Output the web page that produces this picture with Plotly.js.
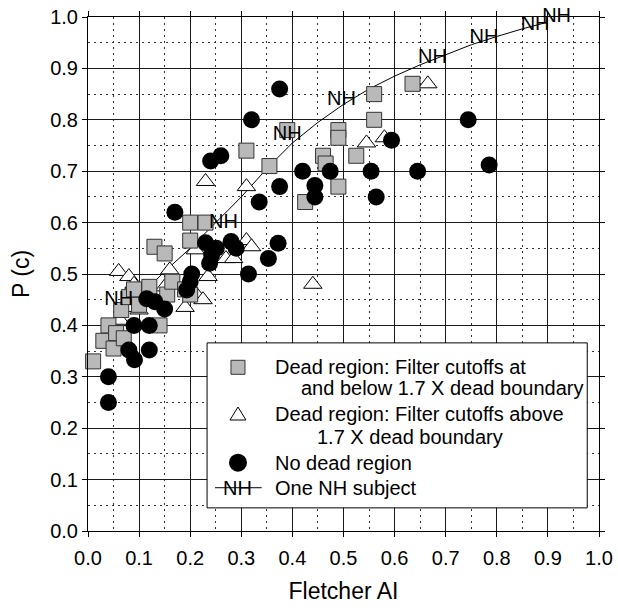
<!DOCTYPE html>
<html>
<head>
<meta charset="utf-8">
<script src="https://cdn.plot.ly/plotly-3.0.1.min.js"></script>
<style>html,body{margin:0;padding:0;background:#fff;}#chart{width:618px;height:608px;}</style>
</head>
<body>
<div id="chart"></div>
<script>
// Dead region: filter cutoffs at and below 1.7 X dead boundary (grey squares)
var deadLowX = [0.31,0.355,0.39,0.425,0.46,0.465,0.49,0.49,0.49,0.525,0.56,0.56,0.635,
                0.20,0.23,0.20,0.13,0.15,
                0.01,0.03,0.04,0.05,0.055,0.065,0.07,0.08,0.09,0.10,0.12,0.14,0.155,0.165,0.19,0.20];
var deadLowY = [0.74,0.71,0.78,0.64,0.73,0.715,0.78,0.765,0.67,0.73,0.85,0.80,0.87,
                0.60,0.60,0.565,0.553,0.54,
                0.33,0.37,0.40,0.355,0.385,0.43,0.375,0.455,0.47,0.44,0.475,0.40,0.46,0.485,0.47,0.46];

// Dead region: filter cutoffs above 1.7 X dead boundary (open triangles)
var deadHighX = [0.23,0.31,0.31,0.32,0.21,0.27,0.285,0.16,0.06,0.08,0.09,0.44,0.235,0.665,0.545,0.58,
                 0.15,0.19,0.215,0.225,0.063,0.10,0.085,0.11];
var deadHighY = [0.68,0.67,0.565,0.553,0.547,0.53,0.53,0.508,0.505,0.495,0.48,0.48,0.495,0.87,0.755,0.765,
                 0.475,0.435,0.456,0.45,0.41,0.43,0.435,0.46];

// No dead region (filled circles)
var noDeadX = [0.17,0.24,0.26,0.32,0.375,0.335,0.375,0.42,0.444,0.444,0.474,0.554,0.564,0.594,0.645,0.744,0.785,
               0.23,0.251,0.28,0.29,0.242,0.238,0.372,0.353,0.314,0.203,0.20,0.193,
               0.115,0.131,0.15,0.09,0.12,0.08,0.091,0.12,0.04,0.04];
var noDeadY = [0.62,0.72,0.73,0.80,0.86,0.64,0.67,0.70,0.672,0.65,0.70,0.70,0.65,0.76,0.70,0.80,0.712,
               0.561,0.55,0.563,0.55,0.537,0.521,0.56,0.53,0.50,0.50,0.485,0.469,
               0.452,0.446,0.432,0.40,0.40,0.352,0.333,0.352,0.30,0.25];

// One NH subject: labels and the line through them
var nhX = [0.06,0.265,0.39,0.496,0.674,0.775,0.875,0.917];
var nhY = [0.45,0.60,0.77,0.838,0.92,0.96,0.984,1.0];
var nhLineX = [0.05,0.10,0.15,0.20,0.25,0.30,0.35,0.40,0.45,0.50,0.55,0.60,0.65,0.70,0.75,0.80,0.85,0.90];
var nhLineY = [0.40,0.455,0.505,0.55,0.60,0.65,0.705,0.755,0.795,0.83,0.86,0.885,0.907,0.927,0.946,0.962,0.977,0.99];

var tickVals = [0,0.1,0.2,0.3,0.4,0.5,0.6,0.7,0.8,0.9,1.0];
var tickText = ['0.0','0.1','0.2','0.3','0.4','0.5','0.6','0.7','0.8','0.9','1.0'];

var legendLabels = [
  'Dead region: Filter cutoffs at',
  'and below 1.7 X dead boundary',
  'Dead region: Filter cutoffs above',
  '1.7 X dead boundary',
  'No dead region',
  'One NH subject'
];

var FONT = 'Liberation Sans, Arial, sans-serif';

var traces = [
  {x: nhLineX, y: nhLineY, mode: 'lines', line: {color: '#000', width: 1}, hoverinfo: 'skip', cliponaxis: false},
  {x: deadHighX, y: deadHighY, mode: 'markers', cliponaxis: false,
   marker: {symbol: 'triangle-up', size: 16, color: '#ffffff', line: {color: '#000', width: 1}}},
  {x: deadLowX, y: deadLowY, mode: 'markers', cliponaxis: false,
   marker: {symbol: 'square', size: 15, color: '#b9b9b9', line: {color: '#333', width: 1}}},
  {x: noDeadX, y: noDeadY, mode: 'markers', cliponaxis: false,
   marker: {symbol: 'circle', size: 17, color: '#000', line: {color: '#000', width: 0}}},
  {x: nhX, y: nhY, mode: 'text', text: nhX.map(function(){return 'NH';}), textposition: 'middle center',
   textfont: {family: FONT, size: 20, color: '#000'}, cliponaxis: false}
];

function axisCommon() {
  return {
    range: [0, 1], tickmode: 'array', tickvals: tickVals, ticktext: tickText,
    showgrid: true, gridcolor: '#1a1a1a', gridwidth: 1,
    minor: {dtick: 0.05, showgrid: true, gridcolor: '#333', gridwidth: 1, griddash: '2px,4px', ticks: ''},
    zeroline: false, showline: true, linecolor: '#000', linewidth: 1, mirror: 'ticks',
    ticks: 'outside', ticklen: 5, tickcolor: '#000', tickwidth: 1,
    tickfont: {family: FONT, size: 20, color: '#000'}, fixedrange: true
  };
}

var xa = axisCommon();
xa.title = {text: 'Fletcher AI', font: {family: FONT, size: 23, color: '#000'}, standoff: 14};
xa.ticklabelstandoff = 4;
var ya = axisCommon();
ya.title = {text: 'P (c)', font: {family: FONT, size: 23, color: '#000'}, standoff: 14};

// legend box geometry (plot fraction)
var lgX0 = 0.233, lgX1 = 0.977, lgY0 = 0.045, lgY1 = 0.366;
var symX = 0.2935, txtX = 0.3614;
var rowY = [0.3185, 0.2776, 0.2276, 0.1835, 0.1329, 0.0842];
var rowX = [txtX, 0.4135, txtX, 0.4442, txtX, txtX];

var shapes = [
  {type: 'rect', xref: 'paper', yref: 'paper', x0: lgX0, x1: lgX1, y0: lgY0, y1: lgY1,
   fillcolor: '#fff', line: {color: '#000', width: 1}, layer: 'above'},
  {type: 'rect', xref: 'paper', yref: 'paper', xsizemode: 'pixel', ysizemode: 'pixel',
   xanchor: symX, yanchor: rowY[0], x0: -7, x1: 7, y0: -7, y1: 7,
   fillcolor: '#b9b9b9', line: {color: '#333', width: 1}, layer: 'above'},
  {type: 'path', xref: 'paper', yref: 'paper', xsizemode: 'pixel', ysizemode: 'pixel',
   xanchor: symX, yanchor: rowY[2], path: 'M-8,-6 L8,-6 L0,7 Z',
   fillcolor: '#fff', line: {color: '#000', width: 1}, layer: 'above'},
  {type: 'circle', xref: 'paper', yref: 'paper', xsizemode: 'pixel', ysizemode: 'pixel',
   xanchor: symX, yanchor: rowY[4], x0: -9, x1: 9, y0: -9, y1: 9,
   fillcolor: '#000', line: {color: '#000', width: 0}, layer: 'above'},
  {type: 'line', xref: 'paper', yref: 'paper', x0: 0.2485, x1: 0.34, y0: rowY[5], y1: rowY[5],
   line: {color: '#000', width: 1}, layer: 'above'}
];

var annotations = legendLabels.map(function(t, i) {
  return {text: t, xref: 'paper', yref: 'paper', x: rowX[i], y: rowY[i], xanchor: 'left', yanchor: 'middle',
          showarrow: false, font: {family: FONT, size: 20, color: '#000'}};
});
annotations.push({text: 'NH', xref: 'paper', yref: 'paper', x: symX, y: rowY[5], xanchor: 'center', yanchor: 'middle',
                  showarrow: false, font: {family: FONT, size: 20, color: '#000'}});

var layout = {
  width: 618, height: 608,
  margin: {l: 88, r: 19, t: 17, b: 77},
  paper_bgcolor: '#fff', plot_bgcolor: '#fff',
  showlegend: false,
  xaxis: xa, yaxis: ya,
  shapes: shapes, annotations: annotations,
  font: {family: FONT, color: '#000'}
};

Plotly.newPlot('chart', traces, layout, {staticPlot: true, displayModeBar: false});
</script>
</body>
</html>
